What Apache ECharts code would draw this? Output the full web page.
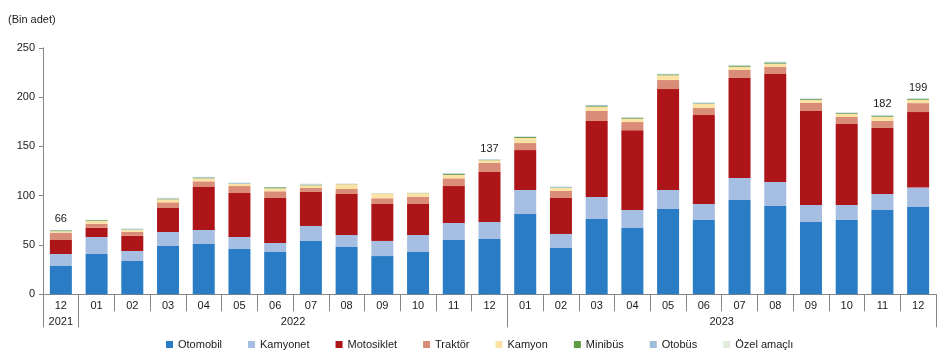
<!DOCTYPE html>
<html>
<head>
<meta charset="utf-8">
<script src="https://cdn.jsdelivr.net/npm/echarts@6/dist/echarts.min.js"></script>
<style>html,body{margin:0;padding:0;background:#fff;}#c{width:946px;height:364px;}</style>
</head>
<body>
<div id="c"></div>
<script>
// ---- data ----
const months = ['12','01','02','03','04','05','06','07','08','09','10','11','12','01','02','03','04','05','06','07','08','09','10','11','12'];
const yearOfMonth = ['2021','2022','2022','2022','2022','2022','2022','2022','2022','2022','2022','2022','2022','2023','2023','2023','2023','2023','2023','2023','2023','2023','2023','2023','2023'];
const otomobil   = [28.7,40.9,33.8,49,51,45.9,42.9,54.1,48,38.8,42.9,55.1,56.1,81.4,47,76.4,67.2,86.5,75.4,95.6,89.6,73.3,75.4,85.5,89];
const kamyonet   = [12.2,17.2,10.1,14.2,14.2,12.2,9.1,15.2,12.1,15.3,17.2,17.2,17.2,24.4,14.2,22.3,18.3,19.3,16.2,22.3,24.3,17.3,15.2,16.2,19.2];
const motosiklet = [14.2,9.4,15.5,24.3,43.6,44.6,45.7,34.5,41.6,37.5,31.5,37.5,50.7,40.5,36.5,77.1,81,102.3,90.2,101.5,109.5,95.3,82.1,67,76.6];
const traktor    = [7.4,4.1,4.1,5.8,5.8,7.1,6.8,4,5.1,5.8,7.1,7.8,9.2,7.1,7.1,10.1,8.2,9.2,7.1,8.1,7.1,8.1,7.1,7.1,9.1];
const kamyon     = [1.5,2.7,2,3,3,2.1,3,2.7,4.8,4.7,3.8,3.4,2.7,5.1,3,4.4,3.4,4.8,4.1,3.3,3.4,3,3.1,4.3,3.4];
const minibus    = [0.8,0.8,0.3,0.4,0.4,0.3,1.0,0.5,0.2,0.2,0.2,0.9,0.4,1.0,0.4,0.9,0.7,0.9,0.5,1.0,1.0,0.9,0.8,0.9,0.9];
const otobus     = [0.4,0.3,0.8,0.8,0.9,0.8,0.3,0.6,0.3,0.2,0.2,0.8,0.6,0.4,0.8,0.8,0.6,0.4,0.9,0.5,0.7,0.6,0.6,0.6,0.5];
const ozelAmacli = [0.2,0.2,0.3,0.6,0.4,0.4,0.2,0.8,0.3,0.3,0.3,0.3,0.3,0.3,0.5,0.3,0.3,0.3,0.5,0.4,0.4,0.5,0.3,0.4,0.3];
const totalLabels = [66,null,null,null,null,null,null,null,null,null,null,null,137,null,null,null,null,null,null,null,null,null,null,182,199];
const seriesNames = ['Otomobil','Kamyonet','Motosiklet','Traktör','Kamyon','Minibüs','Otobüs','Özel amaçlı'];
const seriesData = [otomobil,kamyonet,motosiklet,traktor,kamyon,minibus,otobus,ozelAmacli];
const colors = ['#2a7dc5','#a5bee2','#ad1518','#d98c78','#fde2a6','#609c43','#9dbfdc','#e2ecdc'];

// ---- year group axis (half-category slots) ----
const n = months.length;
const slots = new Array(2 * n + 1).fill('');
const sepIdx = [0];
let start = 0;
for (let i = 1; i <= n; i++) {
  if (i === n || yearOfMonth[i] !== yearOfMonth[start]) {
    slots[start + i] = yearOfMonth[start];
    sepIdx.push(2 * i);
    start = i;
  }
}

const font = 'Liberation Sans, Arial, sans-serif';
const txt = '#1a1a1a';
const axisGray = '#868686';

const series = seriesNames.map((name, k) => ({
  name, type: 'bar', stack: 'total', xAxisIndex: 0,
  data: seriesData[k], barWidth: 22,
  itemStyle: { color: colors[k] },
  emphasis: { disabled: true },
  label: k === seriesNames.length - 1 ? {
    show: true, position: 'top', distance: 5,
    fontFamily: font, fontSize: 11, color: txt,
    formatter: p => totalLabels[p.dataIndex] == null ? '' : String(totalLabels[p.dataIndex])
  } : { show: false }
}));

const chart = echarts.init(document.getElementById('c'), null, { renderer: 'canvas' });
chart.setOption({
  animation: false,
  title: { text: '(Bin adet)', left: 3, top: 9, textStyle: { fontFamily: font, fontSize: 11, fontWeight: 'normal', color: txt } },
  grid: { left: 43, right: 10, top: 47.8, bottom: 69.7, containLabel: false },
  legend: {
    data: seriesNames, left: 161, top: 334, itemWidth: 7, itemHeight: 7, itemGap: 26,
    icon: 'rect', textStyle: { fontFamily: font, fontSize: 11, color: txt }
  },
  xAxis: [
    {
      type: 'category', data: months, position: 'bottom', boundaryGap: true,
      axisLine: { lineStyle: { color: axisGray } },
      axisTick: { show: true, interval: 0, length: 17, lineStyle: { color: axisGray } },
      axisLabel: { interval: 0, margin: 6, fontFamily: font, fontSize: 11, color: txt }
    },
    {
      type: 'category', data: slots, position: 'bottom', boundaryGap: false,
      axisLine: { show: false },
      axisTick: { show: true, length: 33, interval: (i) => sepIdx.indexOf(i) >= 0, lineStyle: { color: axisGray } },
      axisLabel: { interval: (i, v) => v !== '', margin: 22, fontFamily: font, fontSize: 11, color: txt }
    }
  ],
  yAxis: {
    type: 'value', min: 0, max: 250, interval: 50,
    splitLine: { show: false },
    axisLine: { show: true, lineStyle: { color: axisGray } },
    axisTick: { show: true, length: 4, lineStyle: { color: axisGray } },
    axisLabel: { margin: 8, fontFamily: font, fontSize: 11, color: txt }
  },
  series
});
</script>
</body>
</html>
